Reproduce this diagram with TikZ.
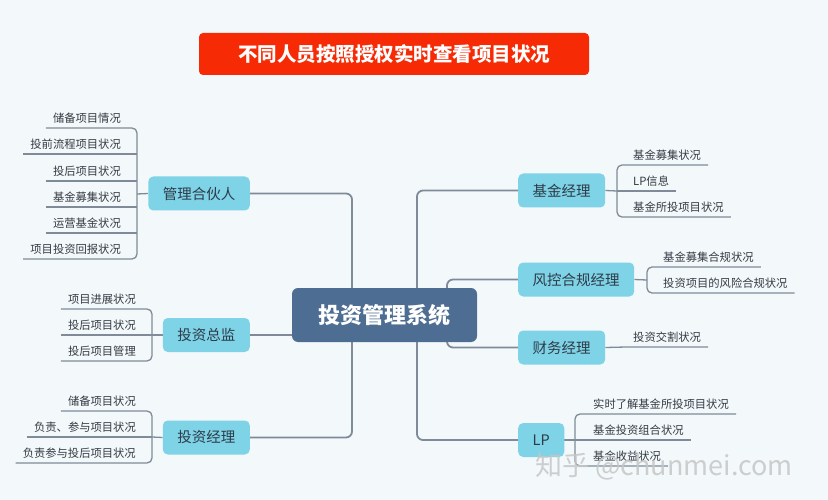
\documentclass[tikz,border=0pt]{standalone}
\usepackage{fontspec}
\setmainfont{Noto Sans CJK SC}
\pgfdeclarelayer{bg}
\pgfsetlayers{bg,main}
\definecolor{bgc}{HTML}{F3F8FB}
\definecolor{titlec}{HTML}{F62B05}
\definecolor{centc}{HTML}{4E6D92}
\definecolor{nodec}{HTML}{7ED3E7}
\definecolor{linec}{HTML}{7F8B98}
\definecolor{leafc}{HTML}{333A42}
\definecolor{ntext}{HTML}{2E3B48}
\begin{document}
\begin{tikzpicture}[x=1pt,y=-1pt,
  rolebox/.style={fill=nodec, rounded corners=5pt, minimum height=34pt, inner xsep=14.5pt,
    font=\fontsize{14.5}{16}\selectfont, text=ntext},
  leafbase/.style={inner xsep=7pt, inner ysep=4pt, text height=9.5pt, text depth=1.5pt,
    font=\fontsize{11.3}{13}\selectfont, text=leafc},
  leafL/.style={leafbase, anchor=south east},
  leafR/.style={leafbase, anchor=south west},
  mainline/.style={draw=linec, line width=1.8pt, rounded corners=6pt},
  leafline/.style={draw=linec, line width=1.3pt, rounded corners=5pt}]
\begin{pgfonlayer}{bg}
\fill[bgc] (0,0) rectangle (828,500);
\end{pgfonlayer}
\useasboundingbox (0,0) rectangle (828,500);

% title
\node[fill=titlec, rounded corners=4pt, minimum width=390pt, minimum height=42pt, text=white,
  font=\fontsize{19.5}{22}\bfseries] (title) at (394,54) {不同人员按照授权实时查看项目状况};

% central
\node[fill=centc, rounded corners=6pt, minimum width=185pt, minimum height=54pt, text=white,
  font=\fontsize{22}{24}\bfseries] (cen) at (384.5,315) {投资管理系统};

% role nodes
\node[rolebox, anchor=east] (gl) at (250,193.5) {管理合伙人};
\node[rolebox, anchor=east] (zj) at (250,335) {投资总监};
\node[rolebox, anchor=east] (tj) at (250,437.5) {投资经理};
\node[rolebox, anchor=west] (jj) at (518,190.5) {基金经理};
\node[rolebox, anchor=west] (fk) at (518,279.5) {风控合规经理};
\node[rolebox, anchor=west] (cw) at (518,347.5) {财务经理};
\node[rolebox, anchor=west] (lp) at (518,440) {LP};

% junction coordinates
\coordinate (jl) at (352,315);
\coordinate (jr) at (417,315);
\coordinate (jr2) at (447,315);
\coordinate (b1) at (137,194);
\coordinate (b2) at (152,335);
\coordinate (b3) at (152,437);
\coordinate (b4) at (617,191);
\coordinate (b5) at (647,280);
\coordinate (b7) at (575,440);

% leaves of 管理合伙人
\node[leafL] (a1) at (128,128) {储备项目情况};
\node[leafL] (a2) at (128,154) {投前流程项目状况};
\node[leafL] (a3) at (128,181) {投后项目状况};
\node[leafL] (a4) at (128,207) {基金募集状况};
\node[leafL] (a5) at (128,233) {运营基金状况};
\node[leafL] (a6) at (128,259) {项目投资回报状况};
% leaves of 投资总监
\node[leafL] (z1) at (143,309) {项目进展状况};
\node[leafL] (z2) at (143,335) {投后项目状况};
\node[leafL] (z3) at (143,361) {投后项目管理};
% leaves of 投资经理
\node[leafL] (t1) at (143,411) {储备项目状况};
\node[leafL] (t2) at (143,437) {负责、参与项目状况};
\node[leafL] (t3) at (143,463) {负责参与投后项目状况};
% leaves of 基金经理
\node[leafR] (j1) at (626,165) {基金募集状况};
\node[leafR] (j2) at (626,191) {LP信息};
\node[leafR] (j3) at (626,217) {基金所投项目状况};
% leaves of 风控合规经理
\node[leafR] (f1) at (656,267) {基金募集合规状况};
\node[leafR] (f2) at (656,293) {投资项目的风险合规状况};
% leaf of 财务经理
\node[leafR] (c1) at (626,347) {投资交割状况};
% leaves of LP
\node[leafR] (p1) at (586,414) {实时了解基金所投项目状况};
\node[leafR] (p2) at (586,440) {基金投资组合状况};
\node[leafR] (p3) at (586,466) {基金收益状况};

\begin{pgfonlayer}{bg}
% main connectors
\draw[mainline] (gl.east) -| (jl) |- (tj.east);
\draw[mainline] (zj.east) -- (zj.east -| jl);
\draw[mainline] (jj.west) -| (jr) |- (lp.west);
\draw[mainline] (fk.west) -| (jr2) |- (cw.west);
% leaf brackets, left
\draw[leafline] (a1.south west) -- (a1.south west -| b1) -- (a6.south west -| b1) -- (a6.south west);
\foreach \n in {a2,a3,a4,a5} \draw[leafline] (\n.south west) -- (\n.south west -| b1);
\draw[leafline] (gl.west) -- (b1);
\draw[leafline] (z1.south west) -- (z1.south west -| b2) -- (z3.south west -| b2) -- (z3.south west);
\draw[leafline] (z2.south west) -- (z2.south west -| b2);
\draw[leafline] (zj.west) -- (b2);
\draw[leafline] (t1.south west) -- (t1.south west -| b3) -- (t3.south west -| b3) -- (t3.south west);
\draw[leafline] (t2.south west) -- (t2.south west -| b3);
\draw[leafline] (tj.west) -- (b3);
% leaf brackets, right
\draw[leafline] (j1.south east) -- (j1.south east -| b4) -- (j3.south east -| b4) -- (j3.south east);
\draw[leafline] (j2.south east) -- (j2.south east -| b4);
\draw[leafline] (jj.east) -- (b4);
\draw[leafline] (f1.south east) -- (f1.south east -| b5) -- (f2.south east -| b5) -- (f2.south east);
\draw[leafline] (fk.east) -- (b5);
\draw[leafline] (cw.east) -- (c1.south west) -- (c1.south east);
\draw[leafline] (p1.south east) -- (p1.south east -| b7) -- (p3.south east -| b7) -- (p3.south east);
\draw[leafline] (p2.south east) -- (p2.south east -| b7);
\draw[leafline] (lp.east) -- (b7);
\end{pgfonlayer}

% watermark
\node[text=gray!45, opacity=0.85, font=\fontsize{27}{30}\selectfont, anchor=center] (wm) at (664,466) {知乎 @chunmei.com};
\end{tikzpicture}
\end{document}
